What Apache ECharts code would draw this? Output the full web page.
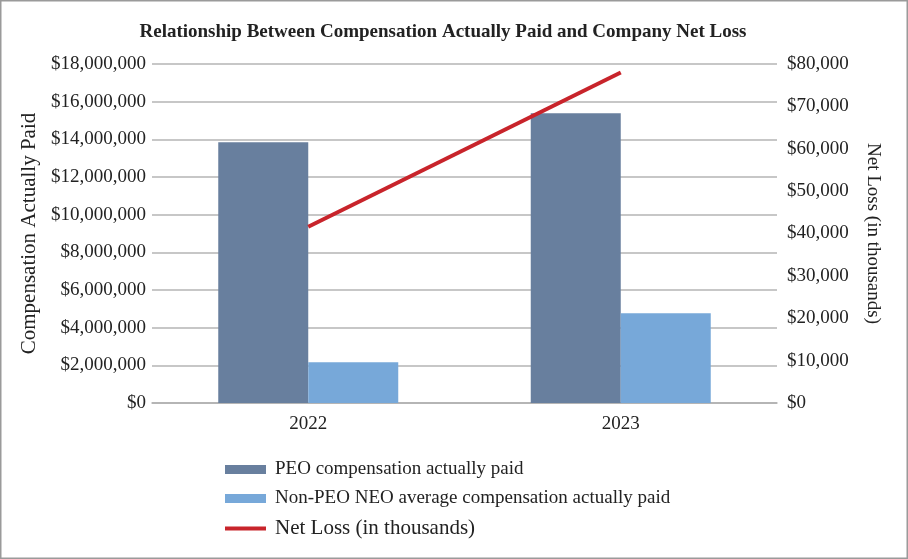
<!DOCTYPE html>
<html>
<head>
<meta charset="utf-8">
<script src="https://cdn.jsdelivr.net/npm/echarts@6/dist/echarts.min.js"></script>
<style>
html,body{margin:0;padding:0;background:#fff;}
#c{width:908px;height:559px;}
</style>
</head>
<body>
<div id="c"></div>
<script>
const categories = ['2022', '2023'];
const peoComp = [13840000, 15380000];
const nonPeoComp = [2160000, 4760000];
const netLoss = [41600, 78000];
const leftTicks = { min: 0, max: 18000000, interval: 2000000 };
const rightTicks = { min: 0, max: 80000, interval: 10000 };

const serif = '"Liberation Serif", "DejaVu Serif", serif';
const fmt = v => '$' + Number(v).toLocaleString('en-US');

const chart = echarts.init(document.getElementById('c'));
chart.setOption({
  animation: false,
  backgroundColor: '#fff',
  textStyle: { fontFamily: serif },
  title: {
    text: 'Relationship Between Compensation Actually Paid and Company Net Loss',
    left: 438, top: 18, textAlign: 'center',
    textStyle: { fontFamily: serif, fontWeight: 'bold', fontSize: 19, color: '#222' }
  },
  graphic: [{
    type: 'rect', shape: { x: 0.5, y: 0.5, width: 907, height: 558 },
    style: { fill: 'none', stroke: '#9a9a9a', lineWidth: 2 }, silent: true
  }],
  grid: { left: 152, right: 131, top: 64, bottom: 156 },
  legend: {
    orient: 'vertical', left: 220, top: 455,
    itemWidth: 41, itemHeight: 9, itemGap: 10,
    textStyle: { fontFamily: serif, fontSize: 19, color: '#222', padding: [0,0,0,4] },
    data: [
      { name: 'PEO compensation actually paid', icon: 'rect' },
      { name: 'Non-PEO NEO average compensation actually paid', icon: 'rect' },
      { name: 'Net Loss (in thousands)', icon: 'path://M0,0L41,0L41,4L0,4Z',
        textStyle: { fontSize: 21, padding: [0,0,0,4] } }
    ]
  },
  xAxis: {
    type: 'category', data: categories,
    axisLine: { show: true, lineStyle: { color: '#b0b0b0', width: 1.5 } },
    axisTick: { show: false },
    axisLabel: { fontFamily: serif, fontSize: 19, color: '#222', margin: 12 }
  },
  yAxis: [{
    type: 'value', ...leftTicks,
    name: 'Compensation Actually Paid', nameLocation: 'middle', nameRotate: 90, nameGap: 104,
    nameTextStyle: { fontFamily: serif, fontSize: 21, color: '#222' },
    axisLine: { show: false }, axisTick: { show: false },
    splitLine: { lineStyle: { color: '#b4b4b4', width: 1.5 } },
    axisLabel: { formatter: fmt, fontFamily: serif, fontSize: 19, color: '#222', margin: 6 }
  }, {
    type: 'value', ...rightTicks, position: 'right',
    name: 'Net Loss (in thousands)', nameLocation: 'middle', nameRotate: -90, nameGap: 86,
    nameTextStyle: { fontFamily: serif, fontSize: 19, color: '#222' },
    axisLine: { show: false }, axisTick: { show: false },
    splitLine: { show: false },
    axisLabel: { formatter: fmt, fontFamily: serif, fontSize: 19, color: '#222', margin: 10 }
  }],
  series: [{
    name: 'PEO compensation actually paid', type: 'bar', data: peoComp,
    yAxisIndex: 0, barGap: '0%', barCategoryGap: '42.4%',
    itemStyle: { color: '#687f9e' }
  }, {
    name: 'Non-PEO NEO average compensation actually paid', type: 'bar', data: nonPeoComp,
    yAxisIndex: 0, itemStyle: { color: '#77a8d9' }
  }, {
    name: 'Net Loss (in thousands)', type: 'line', data: netLoss, yAxisIndex: 1,
    symbol: 'none', lineStyle: { color: '#c8242b', width: 4 }, itemStyle: { color: '#c8242b' }
  }]
});
</script>
</body>
</html>
